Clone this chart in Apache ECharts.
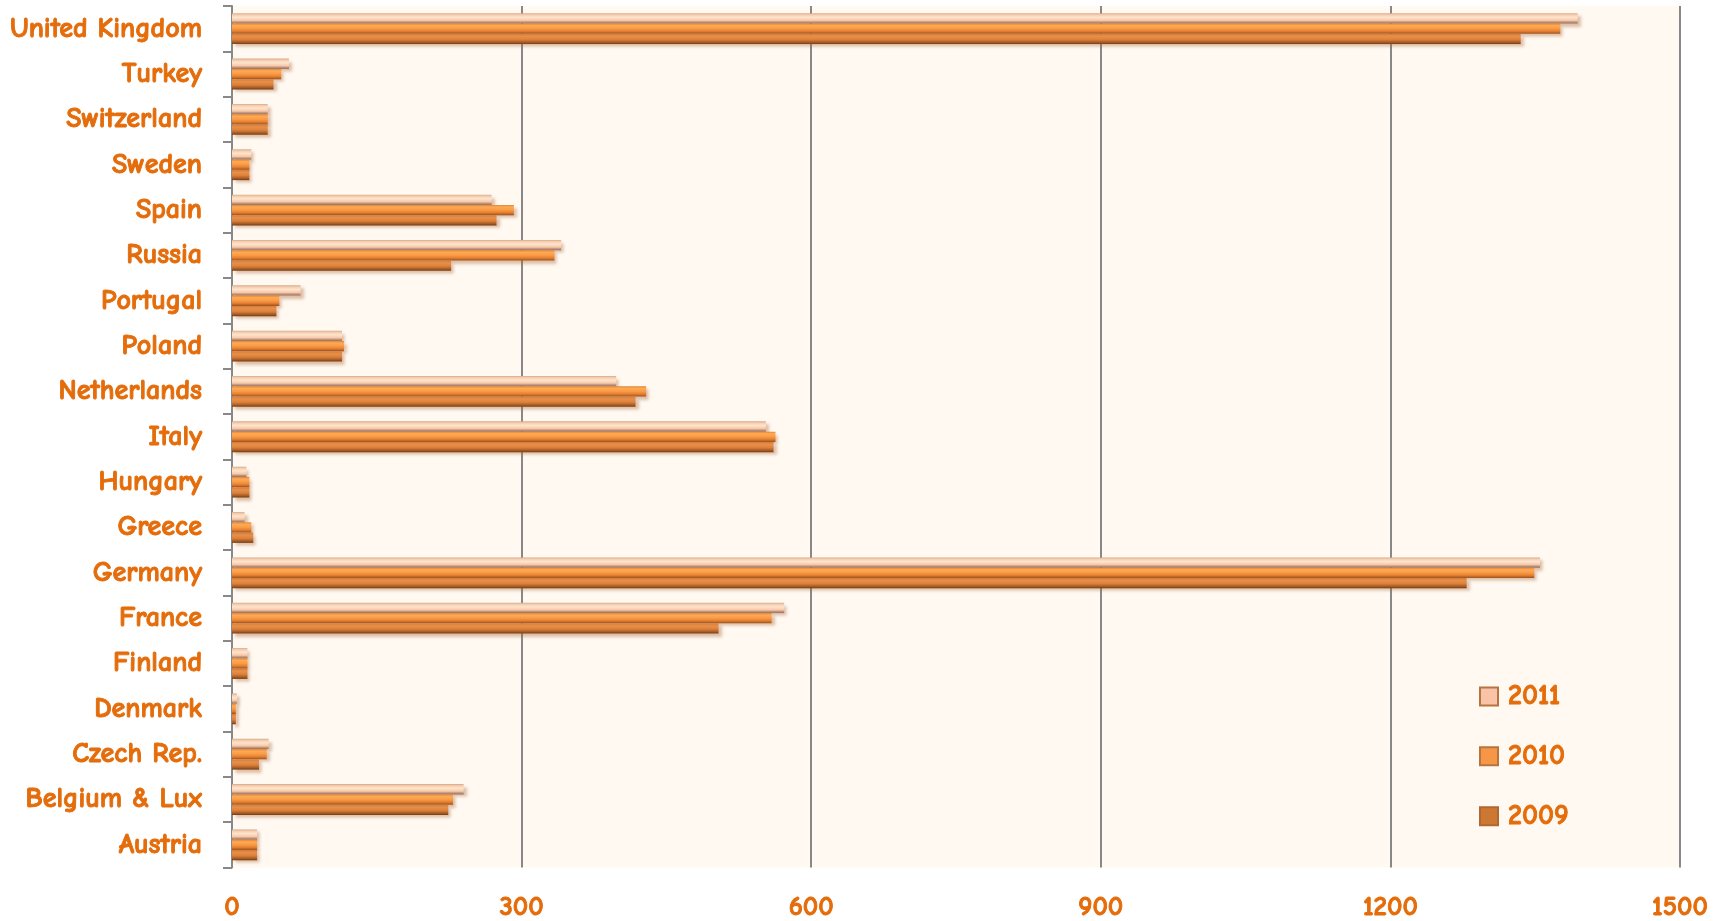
<!DOCTYPE html>
<html>
<head>
<meta charset="utf-8">
<script src="https://cdn.jsdelivr.net/npm/echarts@6/dist/echarts.min.js"></script>
<style>
html,body{margin:0;padding:0;background:#ffffff;}
#main{width:1720px;height:921px;}
</style>
</head>
<body>
<div id="main"></div>
<script>
const categories = ['Austria','Belgium & Lux','Czech Rep.','Denmark','Finland','France','Germany','Greece','Hungary','Italy','Netherlands','Poland','Portugal','Russia','Spain','Sweden','Switzerland','Turkey','United Kingdom'];
const values2009 = [26,224,28,4,16,504,1279,22,18,561,418,114,46,227,274,18,37,43,1335];
const values2010 = [26,229,36,4,16,559,1349,20,18,563,429,116,49,334,292,18,37,51,1376];
const values2011 = [26,240,38,5,16,572,1355,13,15,553,398,114,71,341,269,20,37,59,1394];
const xTicks = [0,300,600,900,1200,1500];

const FONT = "'Comic Sans MS','Comic Neue','DejaVu Sans',sans-serif";
const ORANGE = '#E46C0A';

function grad(stops){
  return new echarts.graphic.LinearGradient(0,0,0,1, stops.map((c)=>({offset:c[0],color:c[1]})));
}
const g2011 = grad([[0,'#D6A888'],[0.15,'#F4CCAE'],[0.4,'#FFE4CC'],[0.7,'#F7C8A8'],[0.85,'#BE9580'],[1,'#967262']]);
const g2010 = grad([[0,'#E4842F'],[0.2,'#FFAA55'],[0.5,'#F99A45'],[0.75,'#E47F30'],[1,'#9A5220']]);
const g2009 = grad([[0,'#D07E3A'],[0.25,'#EA8E48'],[0.55,'#DA823C'],[0.8,'#AE5E26'],[1,'#723E14']]);

function mkSeries(name, data, color){
  return {
    name:name, type:'bar', data:data,
    barGap:'0%', barCategoryGap:'32%',
    itemStyle:{color:color, shadowColor:'rgba(170,100,50,0.4)', shadowBlur:3, shadowOffsetX:3, shadowOffsetY:3},
    emphasis:{disabled:true}
  };
}
const txt = {color:ORANGE, fontWeight:'bold', fontFamily:FONT, textBorderColor:ORANGE, textBorderWidth:0.9};

const chart = echarts.init(document.getElementById('main'));
chart.setOption({
  animation:false,
  backgroundColor:'#ffffff',
  grid:{left:232,right:40,top:6,bottom:52,show:true,backgroundColor:'#FFF9F2',borderWidth:0,containLabel:false},
  legend:{
    orient:'vertical', left:1474, top:677, itemGap:31, itemWidth:18, itemHeight:18,
    data:[
      {name:'2011', itemStyle:{color:'#F9C3A8', borderColor:'#B87440', borderWidth:2}},
      {name:'2010', itemStyle:{color:'#F79646', borderColor:'#B87440', borderWidth:2}},
      {name:'2009', itemStyle:{color:'#CC7833', borderColor:'#B06830', borderWidth:2}}
    ],
    icon:'rect',
    textStyle:Object.assign({fontSize:28, padding:[0,0,0,5]}, txt)
  },
  xAxis:{
    type:'value', min:0, max:1500, interval:300,
    axisLine:{show:false}, axisTick:{show:false},
    splitLine:{show:true, lineStyle:{color:'#888888', width:2}},
    axisLabel:Object.assign({fontSize:27, margin:26,
      formatter:function(v){return xTicks.indexOf(v)>=0 ? String(v) : '';}}, txt)
  },
  yAxis:{
    type:'category', data:categories,
    axisLine:{show:true, lineStyle:{color:'#888888', width:2}},
    axisTick:{show:true, length:9, lineStyle:{color:'#888888', width:2}},
    axisLabel:Object.assign({fontSize:28, margin:30}, txt)
  },
  series:[
    mkSeries('2011', values2011, g2011),
    mkSeries('2010', values2010, g2010),
    mkSeries('2009', values2009, g2009)
  ]
});
</script>
</body>
</html>
